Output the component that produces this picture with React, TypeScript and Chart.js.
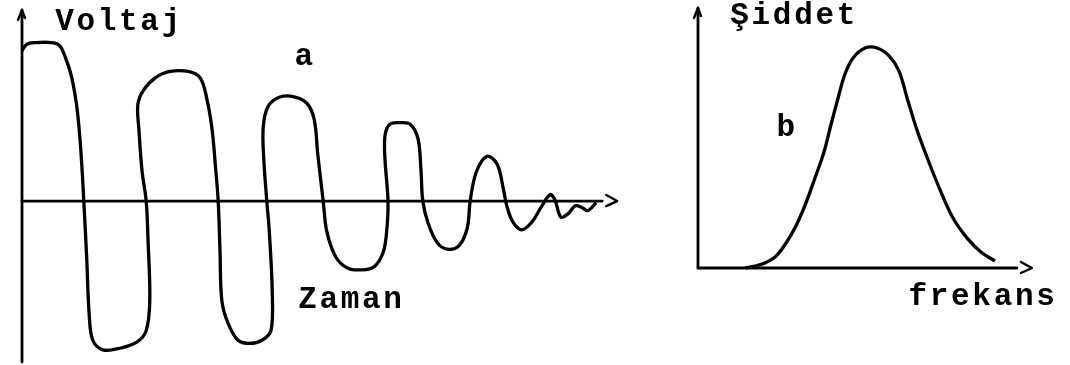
import React, { useEffect, useRef } from "react";
import { Chart, registerables } from "chart.js";
Chart.register(...registerables);

// Panel a: damped voltage oscillation (time, voltage)
const waveTime = [0, 0.8, 2.2, 5, 6.3, 7.3, 8.3, 9.2, 9.8, 10.3, 10.8, 11.2, 11.8, 13.5, 16.3, 19.2, 20.7, 21.3, 21, 20.7, 20, 19.5, 19.3, 20.2, 22.2, 24.7, 27.7, 29.7, 30.8, 31.7, 32.3, 32.7, 33, 33.3, 34.3, 36, 38, 40, 41.5, 41.7, 41.2, 40.8, 40.3, 40.2, 41, 43, 45.5, 47.5, 48.7, 49.3, 50.2, 50.8, 52.3, 54.3, 56.7, 58.7, 60.2, 60.8, 61, 60.5, 60.5, 61.3, 63, 64.7, 66, 66.5, 66.8, 67.7, 69.2, 70.8, 72.8, 74.2, 74.7, 75.7, 77.5, 79.2, 80.2, 80.8, 81.8, 83.3, 85, 86.5, 88, 88.8, 89.8, 91, 92.2, 93.3, 94.3, 95.7];
const waveVoltage = [9.4, 9.8, 9.9, 9.9, 9.7, 8.9, 7.7, 5.7, 3.2, 0, -3.7, -7.1, -8.7, -9.3, -9.2, -8.8, -8.1, -6.2, -2.4, 0, 1.9, 4.4, 6, 6.9, 7.7, 8.1, 8.1, 7.7, 6.4, 4.4, 1.9, 0, -3.1, -6.2, -7.6, -8.7, -8.9, -8.7, -8.1, -5.6, -1.8, 0, 2.6, 4.6, 5.9, 6.5, 6.5, 6.1, 5.1, 2.9, 0, -1.9, -3.5, -4.2, -4.3, -4.1, -3.2, -1.8, 0, 2.6, 4.1, 4.8, 4.9, 4.8, 3.9, 1.9, 0, -1.4, -2.6, -3, -2.8, -1.7, 0, 1.8, 2.8, 2.3, 0.8, -0.3, -1.3, -1.8, -1.3, -0.4, 0.4, 0.1, -1, -0.8, -0.3, -0.4, -0.6, -0.1];

// Panel b: intensity spectrum (frequency, intensity)
const spectrumFreq = [15.7, 19, 22.3, 25.7, 28.7, 32.3, 35.7, 39, 42, 44.3, 46.7, 49, 51.7, 55.7, 59.7, 63.7, 67, 69.7, 73, 76.7, 80.7, 85, 89.7, 94.3, 99];
const spectrumIntensity = [0, 0.9, 2.3, 5, 10, 18.2, 28.6, 40.9, 52.7, 65, 77.3, 88.2, 95.5, 100, 100, 96.4, 89.5, 77.3, 62.7, 49.1, 35.5, 22.7, 13.6, 7.3, 3.2];

// Text
const leftYTitle = "Voltaj";
const leftXTitle = "Zaman";
const leftTag = "a";
const rightYTitle = "Şiddet";
const rightXTitle = "frekans";
const rightTag = "b";

const FONT = "bold 31px 'Liberation Mono', 'DejaVu Sans Mono', monospace";
const ADV = 21.3;

function drawMono(ctx: CanvasRenderingContext2D, text: string, x: number, baseline: number) {
  ctx.save();
  ctx.font = FONT;
  ctx.fillStyle = "#000";
  ctx.textAlign = "center";
  ctx.textBaseline = "alphabetic";
  const chars = Array.from(text);
  chars.forEach((c, i) => ctx.fillText(c, x + ADV * (i + 0.5), baseline));
  ctx.restore();
}

function axesPlugin(opts: {
  xAxisEnd: number;
  labels: { text: string; x: number; y: number }[];
}) {
  return {
    id: "sketchAxes",
    afterDatasetsDraw(chart: any) {
      const ctx = chart.ctx as CanvasRenderingContext2D;
      const xs = chart.scales.x;
      const ys = chart.scales.y;
      const x0 = xs.getPixelForValue(0);
      const yTop = ys.getPixelForValue(ys.max);
      const yBot = ys.getPixelForValue(ys.min);
      const yZero = ys.getPixelForValue(0);
      const xEnd = xs.getPixelForValue(opts.xAxisEnd);
      ctx.save();
      ctx.strokeStyle = "#000";
      ctx.lineWidth = 2.8;
      ctx.lineCap = "round";
      ctx.lineJoin = "round";
      // y axis
      ctx.beginPath();
      ctx.moveTo(x0, yBot);
      ctx.lineTo(x0, yTop);
      ctx.stroke();
      // y arrow
      ctx.lineWidth = 2.4;
      ctx.beginPath();
      ctx.moveTo(x0 - 4, yTop + 10);
      ctx.lineTo(x0, yTop);
      ctx.lineTo(x0 + 3, yTop + 8);
      ctx.stroke();
      // x axis
      ctx.lineWidth = 2.8;
      ctx.beginPath();
      ctx.moveTo(x0, yZero);
      ctx.lineTo(xEnd, yZero);
      ctx.stroke();
      // x arrow chevron
      ctx.lineWidth = 2.4;
      ctx.beginPath();
      ctx.moveTo(xEnd + 4, yZero - 6);
      ctx.lineTo(xEnd + 15, yZero);
      ctx.lineTo(xEnd + 4, yZero + 5);
      ctx.stroke();
      ctx.restore();
      opts.labels.forEach((l) => drawMono(ctx, l.text, xs.getPixelForValue(l.x), ys.getPixelForValue(l.y)));
    },
  };
}

function Panel(props: {
  left: number;
  width: number;
  padding: { left: number; right: number; top: number; bottom: number };
  xs: number[];
  ys: number[];
  xMax: number;
  yMin: number;
  yMax: number;
  xAxisEnd: number;
  labels: { text: string; x: number; y: number }[];
}) {
  const ref = useRef<HTMLCanvasElement>(null);
  useEffect(() => {
    if (!ref.current) return;
    const chart = new Chart(ref.current, {
      type: "scatter",
      data: {
        datasets: [
          {
            data: props.xs.map((x, i) => ({ x, y: props.ys[i] })),
            showLine: true,
            borderColor: "#000",
            borderWidth: 3.3,
            pointRadius: 0,
            tension: 0.35,
            clip: false as any,
          },
        ],
      },
      options: {
        responsive: false,
        animation: false,
        layout: { padding: props.padding },
        plugins: { legend: { display: false }, tooltip: { enabled: false } },
        scales: {
          x: { type: "linear", min: 0, max: props.xMax, display: false },
          y: { type: "linear", min: props.yMin, max: props.yMax, display: false },
        },
      },
      plugins: [axesPlugin({ xAxisEnd: props.xAxisEnd, labels: props.labels })],
    });
    return () => chart.destroy();
  }, []);
  return (
    <canvas
      ref={ref}
      width={props.width}
      height={365}
      style={{ position: "absolute", left: props.left, top: 0, width: props.width, height: 365 }}
    />
  );
}

export default function App() {
  return (
    <div style={{ position: "absolute", left: 0, top: 0, width: 1070, height: 365, background: "#fff", overflow: "hidden" }}>
      <Panel
        left={0}
        width={640}
        padding={{ left: 22, right: 21, top: 10, bottom: 3 }}
        xs={waveTime}
        ys={waveVoltage}
        xMax={99.5}
        yMin={-10.06}
        yMax={11.94}
        xAxisEnd={96.7}
        labels={[
          { text: leftYTitle, x: 5.3, y: 10.7 },
          { text: leftTag, x: 45.2, y: 8.5 },
          { text: leftXTitle, x: 45.8, y: -6.7 },
        ]}
      />
      <Panel
        left={640}
        width={430}
        padding={{ left: 58, right: 37, top: 8, bottom: 97 }}
        xs={spectrumFreq}
        ys={spectrumIntensity}
        xMax={111.67}
        yMin={0}
        yMax={118.18}
        xAxisEnd={106.3}
        labels={[
          { text: rightYTitle, x: 10.3, y: 110.9 },
          { text: rightTag, x: 25.7, y: 60 },
          { text: rightXTitle, x: 69.7, y: -16.8 },
        ]}
      />
    </div>
  );
}
